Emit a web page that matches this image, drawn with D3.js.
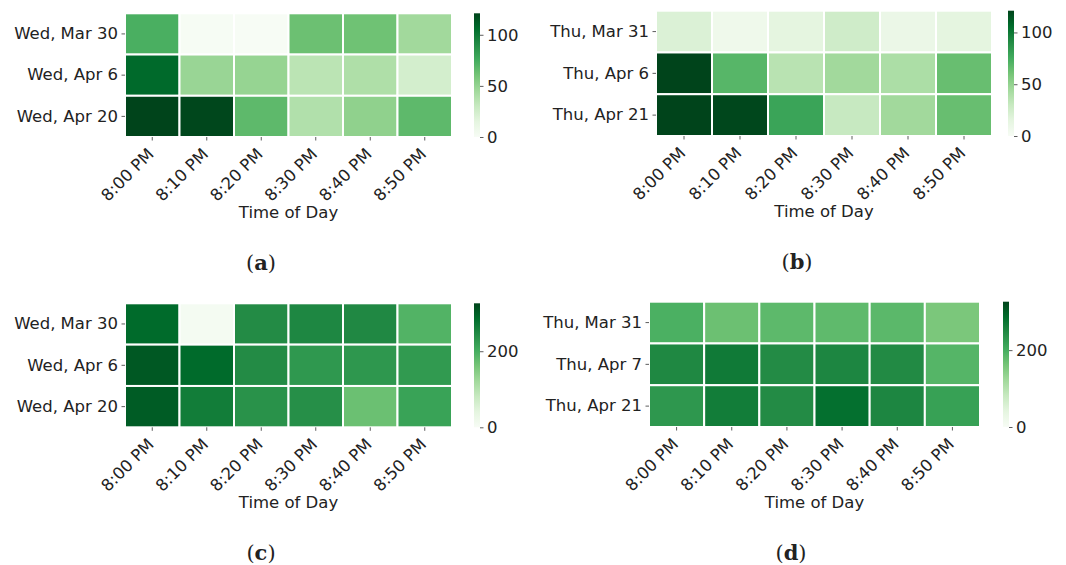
<!DOCTYPE html>
<html>
<head>
<meta charset="utf-8">
<script src="https://cdn.jsdelivr.net/npm/d3@7"></script>
<style>
  html, body { margin: 0; padding: 0; background: #fff; }
  svg { display: block; }
  text { font-family: "DejaVu Sans", sans-serif; fill: #222; }
</style>
</head>
<body>
<svg id="chart" width="1066" height="565"></svg>
<script>
// ---- data ----
const timeSlots = ["8:00 PM", "8:10 PM", "8:20 PM", "8:30 PM", "8:40 PM", "8:50 PM"];

const daysA = ["Wed, Mar 30", "Wed, Apr 6", "Wed, Apr 20"];
const countsA = [
  [73, 1, 0, 63, 62, 45],
  [107, 48, 49, 35, 40, 24],
  [121, 120, 67, 39, 51, 67]
];

const daysB = ["Thu, Mar 31", "Thu, Apr 6", "Thu, Apr 21"];
const countsB = [
  [20, 7, 15, 26, 10, 15],
  [121, 69, 36, 45, 41, 64],
  [121, 120, 79, 30, 45, 64]
];

const daysC = ["Wed, Mar 30", "Wed, Apr 6", "Wed, Apr 20"];
const countsC = [
  [287, 6, 245, 250, 248, 190],
  [306, 287, 244, 228, 229, 225],
  [302, 264, 236, 240, 170, 214]
];

const daysD = ["Thu, Mar 31", "Thu, Apr 7", "Thu, Apr 21"];
const countsD = [
  [196, 169, 181, 180, 183, 157],
  [249, 267, 245, 251, 246, 188],
  [229, 264, 245, 281, 251, 217]
];

const scaleMaxAB = 121;
const colorTicksAB = [0, 50, 100];
const scaleMaxCD = 326;
const colorTicksCD = [0, 200];

const captions = ["a", "b", "c", "d"];
const axisTitle = "Time of Day";

// ---- colour map: piecewise-linear Greens ----
const greens = ["#f7fcf5", "#e5f5e0", "#c7e9c0", "#a1d99b", "#74c476",
                "#41ab5d", "#238b45", "#006d2c", "#00441b"];
function makeColor(vmax) {
  const stops = greens.map((_, i) => vmax * i / (greens.length - 1));
  return d3.scaleLinear().domain(stops).range(greens)
    .interpolate(d3.interpolateRgb).clamp(true);
}

// ---- layout of the four panels ----
const panels = [
  { days: daysA, counts: countsA, vmax: scaleMaxAB, ticks: colorTicksAB, cap: captions[0],
    x0: 125, x1: 452, y0: 13.3, y1: 137, cbx: 474, capx: 261 },
  { days: daysB, counts: countsB, vmax: scaleMaxAB, ticks: colorTicksAB, cap: captions[1],
    x0: 656, x1: 992, y0: 10.7, y1: 136, cbx: 1008, capx: 797 },
  { days: daysC, counts: countsC, vmax: scaleMaxCD, ticks: colorTicksCD, cap: captions[2],
    x0: 125, x1: 452, y0: 303.3, y1: 427.3, cbx: 474, capx: 261 },
  { days: daysD, counts: countsD, vmax: scaleMaxCD, ticks: colorTicksCD, cap: captions[3],
    x0: 649, x1: 980, y0: 301.7, y1: 427, cbx: 1003, capx: 791 }
];

const svg = d3.select("#chart");
const defs = svg.append("defs");
const fontSize = 16.5;
const tickLen = 3.5;

panels.forEach((p, pi) => {
  const g = svg.append("g");
  const color = makeColor(p.vmax);

  const x = d3.scaleBand().domain(timeSlots).range([p.x0, p.x1]);
  const y = d3.scaleBand().domain(p.days).range([p.y0, p.y1]);

  const cells = [];
  p.days.forEach((d, r) => timeSlots.forEach((t, c) =>
    cells.push({ day: d, time: t, value: p.counts[r][c] })));

  g.append("g").selectAll("rect").data(cells).join("rect")
    .attr("x", d => x(d.time))
    .attr("y", d => y(d.day))
    .attr("width", x.bandwidth())
    .attr("height", y.bandwidth())
    .attr("fill", d => color(d.value))
    .attr("stroke", "#fff")
    .attr("stroke-width", 2);

  // x axis with rotated labels
  const xa = g.append("g")
    .attr("transform", `translate(0,${p.y1})`)
    .call(d3.axisBottom(x).tickSize(tickLen).tickSizeOuter(0));
  xa.select(".domain").remove();
  xa.selectAll(".tick line").attr("stroke", "#333").attr("stroke-width", 0.8);
  xa.selectAll(".tick text")
    .attr("x", 0).attr("y", 0).attr("dy", "0.74em")
    .attr("text-anchor", "end")
    .attr("transform", "translate(-6,9.5) rotate(-45)")
    .style("font-size", fontSize + "px")
    .style("font-family", "DejaVu Sans");

  // y axis
  const ya = g.append("g")
    .attr("transform", `translate(${p.x0},0)`)
    .call(d3.axisLeft(y).tickSize(tickLen).tickPadding(3.5).tickSizeOuter(0));
  ya.select(".domain").remove();
  ya.selectAll(".tick line").attr("stroke", "#333").attr("stroke-width", 0.8);
  ya.selectAll(".tick text")
    .style("font-size", fontSize + "px")
    .style("font-family", "DejaVu Sans");

  // axis title
  g.append("text")
    .attr("x", (p.x0 + p.x1) / 2)
    .attr("y", p.y1 + 81)
    .attr("text-anchor", "middle")
    .style("font-size", fontSize + "px")
    .text(axisTitle);

  // colour bar
  const gradId = "cbar" + pi;
  const grad = defs.append("linearGradient").attr("id", gradId)
    .attr("x1", 0).attr("y1", 1).attr("x2", 0).attr("y2", 0);
  d3.range(0, 1.0001, 0.125).forEach(f => {
    grad.append("stop").attr("offset", f).attr("stop-color", color(f * p.vmax));
  });
  g.append("rect")
    .attr("x", p.cbx).attr("y", p.y0)
    .attr("width", 6).attr("height", p.y1 - p.y0)
    .attr("fill", `url(#${gradId})`);

  const cs = d3.scaleLinear().domain([0, p.vmax]).range([p.y1, p.y0]);
  const ca = g.append("g")
    .attr("transform", `translate(${p.cbx + 6},0)`)
    .call(d3.axisRight(cs).tickValues(p.ticks).tickSize(tickLen).tickPadding(3.5));
  ca.select(".domain").remove();
  ca.selectAll(".tick line").attr("stroke", "#333").attr("stroke-width", 0.8);
  ca.selectAll(".tick text")
    .style("font-size", fontSize + "px")
    .style("font-family", "DejaVu Sans");

  // sub-figure caption
  const cap = g.append("text")
    .attr("x", p.capx)
    .attr("y", p.y1 + 133)
    .attr("text-anchor", "middle")
    .style("font-size", "21px")
    .style("font-family", "DejaVu Serif");
  cap.append("tspan").text("(");
  cap.append("tspan").style("font-weight", "bold").text(p.cap);
  cap.append("tspan").text(")");
});
</script>
</body>
</html>
